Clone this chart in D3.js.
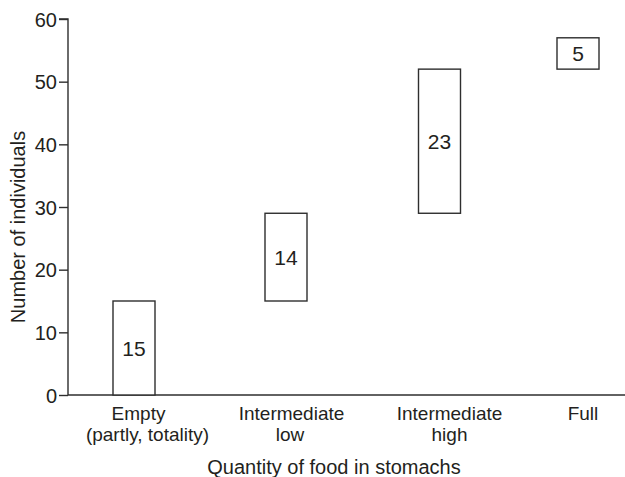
<!DOCTYPE html>
<html><head><meta charset="utf-8">
<script src="https://cdn.jsdelivr.net/npm/d3@7"></script>
<style>body{margin:0;background:#fff}svg{display:block}text{font-family:"Liberation Sans",Arial,sans-serif;fill:#231f20}</style>
</head><body><svg id="c" width="625" height="477"></svg>
<script>
const categories = ["Empty", "Intermediate low", "Intermediate high", "Full"];
const categoryLines = [["Empty", "(partly, totality)"], ["Intermediate", "low"], ["Intermediate", "high"], ["Full"]];
const counts = [15, 14, 23, 5];
const yTicks = [0, 10, 20, 30, 40, 50, 60];
const xTitle = "Quantity of food in stomachs";
const yTitle = "Number of individuals";

// layout (not data)
const barCenters = [134, 286, 439.5, 578];
const lineCenters = [[138.5, 147.5], [291.5, 290], [449.5, 449.5], [583]];

const svg = d3.select("#c");
const ink = "#2e2e2e";
const FONT = "Liberation Sans, Arial, sans-serif";
const y = d3.scaleLinear().domain([0, 60]).range([395, 19]);
const x = d3.scaleOrdinal().domain(categories).range(barCenters);
const bw = 42;

let acc = 0;
const bars = counts.map((v, i) => { const b = {cat: categories[i], v, y0: acc, y1: acc + v}; acc += v; return b; });

// y axis
const ya = svg.append("g").attr("transform", "translate(68,0)")
  .call(d3.axisLeft(y).tickValues(yTicks).tickSize(9).tickPadding(2));
ya.select(".domain").attr("stroke", ink).attr("stroke-width", 1.4).attr("d", `M-9,${y(60)}H0V${y(0)}`);
ya.selectAll(".tick line").attr("stroke", ink).attr("stroke-width", 1.4);
ya.selectAll(".tick text").attr("font-size", 20).attr("fill", "#231f20").attr("font-family", FONT).attr("dy", "0.36em");

// x axis line
svg.append("line").attr("x1", 68).attr("x2", 625).attr("y1", y(0)).attr("y2", y(0))
  .attr("stroke", ink).attr("stroke-width", 1.4);

// bars
svg.selectAll("rect.bar").data(bars).join("rect").attr("class", "bar")
  .attr("x", d => x(d.cat) - bw / 2).attr("width", bw)
  .attr("y", d => y(d.y1)).attr("height", d => y(d.y0) - y(d.y1))
  .attr("fill", "#fff").attr("stroke", ink).attr("stroke-width", 1.4);

svg.selectAll("text.val").data(bars).join("text").attr("class", "val")
  .attr("x", d => x(d.cat)).attr("y", d => (y(d.y0) + y(d.y1)) / 2)
  .attr("text-anchor", "middle").attr("dy", "0.36em").attr("font-size", 21)
  .text(d => d.v);

// category labels (one text per line)
categoryLines.forEach((lines, i) => {
  lines.forEach((ln, j) => svg.append("text").attr("text-anchor", "middle").attr("font-size", 19)
    .attr("x", lineCenters[i][j]).attr("y", 420 + j * 21).text(ln));
});

svg.append("text").attr("x", 334).attr("y", 474).attr("text-anchor", "middle").attr("font-size", 20).text(xTitle);
svg.append("text").attr("transform", "translate(25,227) rotate(-90)").attr("text-anchor", "middle").attr("font-size", 20).text(yTitle);
</script></body></html>
